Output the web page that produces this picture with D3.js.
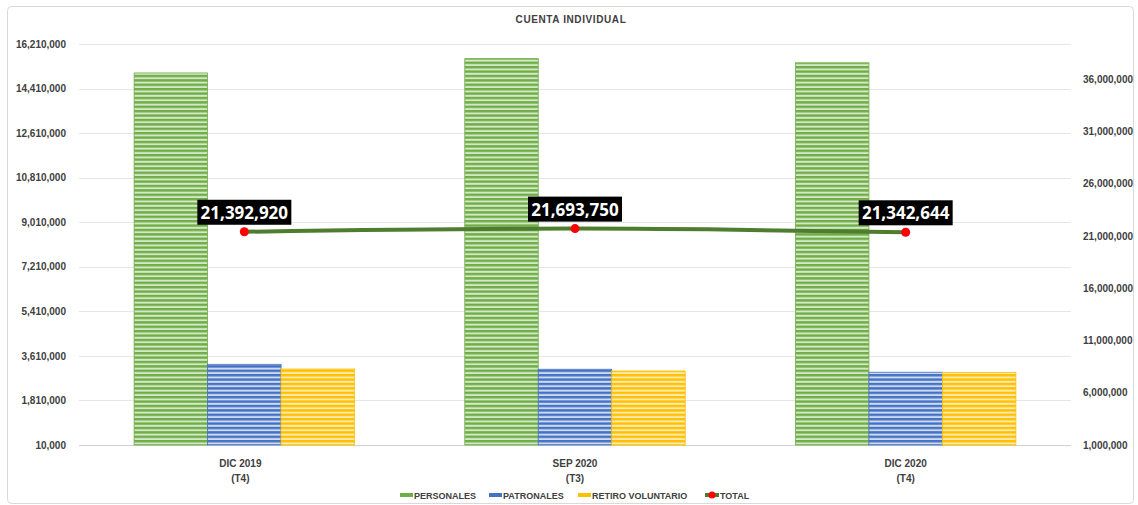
<!DOCTYPE html>
<html>
<head>
<meta charset="utf-8">
<script src="https://cdn.jsdelivr.net/npm/d3@7"></script>
<style>
  html, body { margin: 0; padding: 0; background: #fff; }
  svg { display: block; font-family: "Liberation Sans", Arial, sans-serif; }
</style>
</head>
<body>
<svg id="chart" width="1138" height="505"></svg>
<script>
// ---------- DATA ----------
const title = "CUENTA INDIVIDUAL";
const categories = ["DIC 2019", "SEP 2020", "DIC 2020"];
const categorySub = ["(T4)", "(T3)", "(T4)"];
const seriesNames = ["PERSONALES", "PATRONALES", "RETIRO VOLUNTARIO"];
const personales = [15040000, 15620000, 15450000];
const patronales = [3270000, 3070000, 2950000];
const retiroVoluntario = [3080000, 3000000, 2940000];
const totalName = "TOTAL";
const total = [21392920, 21693750, 21342644];
const leftTicks = [10000, 1810000, 3610000, 5410000, 7210000, 9010000, 10810000, 12610000, 14410000, 16210000];
const rightTicks = [1000000, 6000000, 11000000, 16000000, 21000000, 26000000, 31000000, 36000000];

// ---------- STYLE ----------
const colors = {
  fg: ["#70ad47", "#4472c4", "#ffc000"],
  bg: ["#d3e8c6", "#cdd9f0", "#ffeab0"]
};
const lineColor = "#4f7d2f";
const textColor = "#404040";

const svg = d3.select("#chart");
const W = 1138, H = 505;
const plot = { left: 79, right: 1071, top: 44, bottom: 445 };

// outer frame
svg.append("rect").attr("x", 7.5).attr("y", 6.5).attr("width", 1126).attr("height", 497)
  .attr("rx", 4).attr("fill", "#fff").attr("stroke", "#d9d9d9").attr("stroke-width", 1);

// patterns
const defs = svg.append("defs");
colors.fg.forEach((c, i) => {
  const p = defs.append("pattern").attr("id", "pat" + i)
    .attr("patternUnits", "userSpaceOnUse").attr("width", 8).attr("height", 4.4);
  p.append("rect").attr("width", 8).attr("height", 4.4).attr("fill", colors.bg[i]);
  p.append("rect").attr("width", 8).attr("height", 2.4).attr("fill", c);
});

// scales
const x = d3.scaleBand().domain(categories).range([plot.left, plot.right]).padding(0);
const xs = d3.scaleBand().domain(seriesNames).range([0, x.bandwidth()]).paddingInner(0).paddingOuter(0.75);
const yL = d3.scaleLinear().domain([10000, 16210000]).range([plot.bottom, plot.top]);
const yR = d3.scaleLinear().domain([1000000, 39350000]).range([plot.bottom, plot.top]);

// gridlines
svg.append("g").selectAll("line").data(leftTicks).join("line")
  .attr("x1", plot.left).attr("x2", plot.right)
  .attr("y1", d => Math.round(yL(d)) + 0.5).attr("y2", d => Math.round(yL(d)) + 0.5)
  .attr("stroke", d => d === leftTicks[0] ? "#d0d0d0" : "#e6e6e6").attr("stroke-width", 1);

// axes
const fmt = d3.format(",");
const axL = svg.append("g").attr("transform", `translate(${plot.left},0)`)
  .call(d3.axisLeft(yL).tickValues(leftTicks).tickSize(0).tickPadding(13).tickFormat(fmt));
const axR = svg.append("g").attr("transform", `translate(${plot.right},0)`)
  .call(d3.axisRight(yR).tickValues(rightTicks).tickSize(0).tickPadding(12).tickFormat(fmt));
[axL, axR].forEach(a => {
  a.select(".domain").remove();
  a.selectAll("text").attr("fill", textColor).attr("font-size", 10).attr("font-weight", "bold")
    .attr("font-family", "'Liberation Sans', Arial, sans-serif");
});

// bars
const seriesData = [personales, patronales, retiroVoluntario];
const barG = svg.append("g");
seriesData.forEach((vals, si) => {
  barG.selectAll(null).data(vals).join("rect")
    .attr("x", (d, i) => x(categories[i]) + xs(seriesNames[si]))
    .attr("width", xs.bandwidth())
    .attr("y", d => yL(d))
    .attr("height", d => plot.bottom - yL(d))
    .attr("fill", `url(#pat${si})`)
    .attr("stroke", colors.fg[si]).attr("stroke-width", 0.8);
});

// category labels
const catG = svg.append("g").attr("font-size", 10).attr("font-weight", "bold").attr("fill", textColor)
  .attr("text-anchor", "middle");
categories.forEach((c, i) => {
  const cx = x(c) + x.bandwidth() / 2 - (i === 0 ? 4 : 0);
  catG.append("text").attr("x", cx).attr("y", 467).text(c);
  catG.append("text").attr("x", cx).attr("y", 482).text(categorySub[i]);
});

// total line
const pts = total.map((v, i) => [x(categories[i]) + x.bandwidth() / 2, yR(v)]);
svg.append("path").attr("d", d3.line().curve(d3.curveMonotoneX)(pts))
  .attr("fill", "none").attr("stroke", lineColor).attr("stroke-width", 4).attr("stroke-linecap", "round");
svg.append("g").selectAll("circle").data(pts).join("circle")
  .attr("cx", d => d[0]).attr("cy", d => d[1]).attr("r", 4.5).attr("fill", "#ff0000");

// data labels
const lblG = svg.append("g");
total.forEach((v, i) => {
  const [px, py] = pts[i];
  const g = lblG.append("g");
  const t = g.append("text").attr("x", px).attr("y", py - 13).attr("text-anchor", "middle")
    .attr("font-size", 17).attr("font-weight", "bold").attr("fill", "#fff")
    .attr("font-family", "'Open Sans', 'Liberation Sans', sans-serif")
    .text(fmt(v));
  const bb = t.node().getBBox();
  g.insert("rect", "text").attr("x", px - 47).attr("y", py - 32).attr("width", 94).attr("height", 25)
    .attr("fill", "#000");
});

// title
svg.append("text").attr("x", 571).attr("y", 23).attr("text-anchor", "middle")
  .attr("font-size", 10).attr("font-weight", "bold").attr("fill", textColor)
  .attr("letter-spacing", 0.6).text(title);

// legend
const legY = 495;
const legItems = [
  { name: seriesNames[0], sx: 400, tx: 414, type: 0 },
  { name: seriesNames[1], sx: 489, tx: 503, type: 1 },
  { name: seriesNames[2], sx: 578, tx: 592, type: 2 },
  { name: totalName, sx: 705, tx: 720, type: "line" }
];
const legG = svg.append("g");
legItems.forEach(it => {
  if (it.type === "line") {
    legG.append("line").attr("x1", it.sx).attr("x2", it.sx + 14).attr("y1", legY).attr("y2", legY)
      .attr("stroke", lineColor).attr("stroke-width", 4);
    legG.append("circle").attr("cx", it.sx + 7).attr("cy", legY).attr("r", 3.5).attr("fill", "#ff0000");
  } else {
    legG.append("rect").attr("x", it.sx).attr("y", legY - 2).attr("width", 13).attr("height", 4)
      .attr("fill", colors.fg[it.type]);
  }
  legG.append("text").attr("x", it.tx).attr("y", legY + 3.5).attr("font-size", 9).attr("font-weight", "bold")
    .attr("fill", textColor).text(it.name);
});
</script>
</body>
</html>
